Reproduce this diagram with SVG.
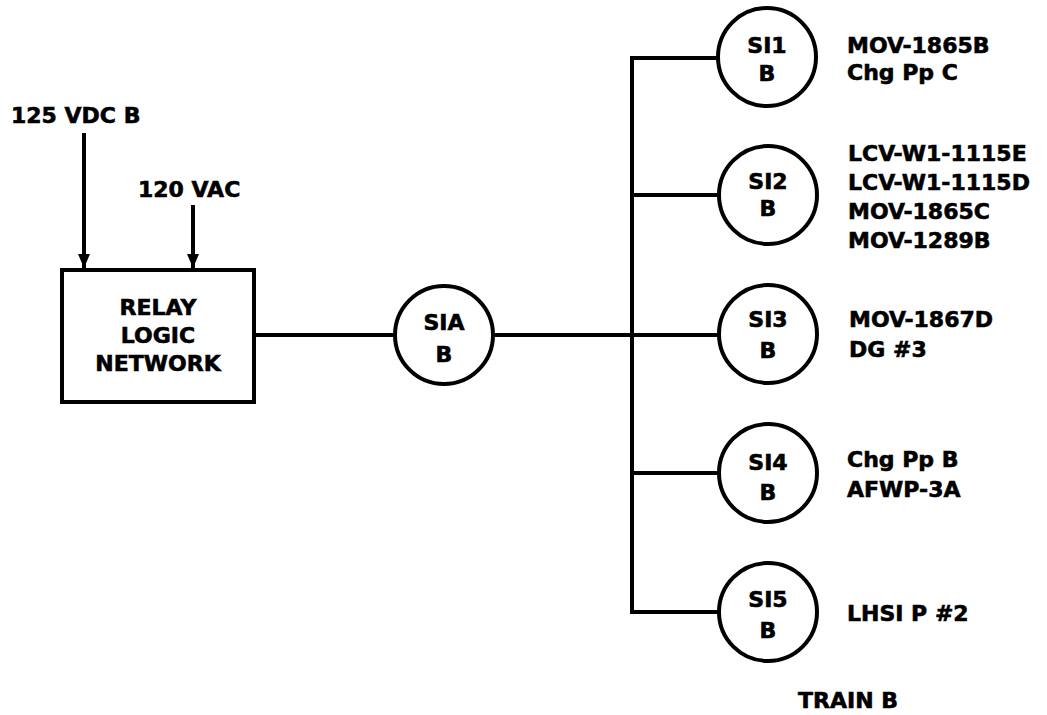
<svg xmlns="http://www.w3.org/2000/svg" width="1047" height="715" viewBox="0 0 1047 715">
<defs>
<style>
text{font-family:"DejaVu Sans","Liberation Sans",sans-serif;font-weight:bold;font-size:22px;fill:#000;stroke:#000;stroke-width:0.6}
.c{text-anchor:middle}
.ln{stroke:#000;stroke-width:4;fill:none}
.nd{stroke:#000;stroke-width:4;fill:#fff}
</style>
<marker id="ah" viewBox="0 0 14 12" refX="14" refY="6" markerWidth="14" markerHeight="12" markerUnits="userSpaceOnUse" orient="auto">
<path d="M0,0 L14,6 L0,12 Z" fill="#000"/>
</marker>
</defs>
<rect width="1047" height="715" fill="#fff"/>
<g id="connectors">
<line class="ln" x1="84" y1="133" x2="84" y2="268" marker-end="url(#ah)"/>
<line class="ln" x1="193" y1="205" x2="193" y2="268" marker-end="url(#ah)"/>
<line class="ln" x1="254" y1="335" x2="395" y2="335"/>
<line class="ln" x1="493" y1="335" x2="719" y2="335"/>
<polyline class="ln" points="720,58 632,58 632,612 720,612"/>
<line class="ln" x1="632" y1="195" x2="720" y2="195"/>
<line class="ln" x1="632" y1="473" x2="720" y2="473"/>
</g>
<g id="src125">
<text x="11" y="123">125 VDC B</text>
</g>
<g id="src120">
<text x="138" y="197">120 VAC</text>
</g>
<g id="relay">
<rect class="nd" x="62" y="270" width="192" height="132"/>
<text class="c" x="158" y="315">RELAY</text>
<text class="c" x="158" y="343">LOGIC</text>
<text class="c" x="158" y="371">NETWORK</text>
</g>
<g id="sia">
<circle class="nd" cx="444" cy="335" r="49"/>
<text class="c" x="444" y="330">SIA</text>
<text class="c" x="444" y="362">B</text>
</g>
<g id="si1">
<circle class="nd" cx="767" cy="57" r="49"/>
<text class="c" x="767" y="53">SI1</text>
<text class="c" x="767" y="81">B</text>
<text x="847" y="53">MOV-1865B</text>
<text x="847" y="80">Chg Pp C</text>
</g>
<g id="si2">
<circle class="nd" cx="768" cy="195" r="49"/>
<text class="c" x="768" y="189">SI2</text>
<text class="c" x="768" y="216">B</text>
<text x="848" y="161">LCV-W1-1115E</text>
<text x="848" y="190">LCV-W1-1115D</text>
<text x="848" y="219">MOV-1865C</text>
<text x="848" y="248">MOV-1289B</text>
</g>
<g id="si3">
<circle class="nd" cx="768" cy="334" r="49"/>
<text class="c" x="768" y="327">SI3</text>
<text class="c" x="768" y="358">B</text>
<text x="849" y="327">MOV-1867D</text>
<text x="849" y="357">DG #3</text>
</g>
<g id="si4">
<circle class="nd" cx="768" cy="473" r="49"/>
<text class="c" x="768" y="470">SI4</text>
<text class="c" x="768" y="500">B</text>
<text x="847" y="467">Chg Pp B</text>
<text x="847" y="497">AFWP-3A</text>
</g>
<g id="si5">
<circle class="nd" cx="768" cy="612" r="49"/>
<text class="c" x="768" y="607">SI5</text>
<text class="c" x="768" y="638">B</text>
<text x="847" y="621">LHSI P #2</text>
</g>
<g id="train">
<text class="c" x="848" y="708">TRAIN B</text>
</g>
</svg>
